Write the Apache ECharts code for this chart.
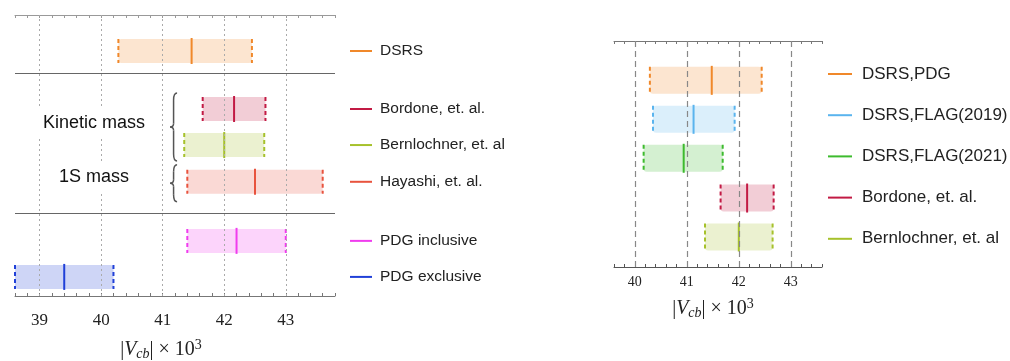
<!DOCTYPE html>
<html>
<head>
<meta charset="utf-8">
<script src="https://cdn.jsdelivr.net/npm/echarts@6/dist/echarts.min.js"></script>
<style>
html, body { margin: 0; padding: 0; background: #fff; }
#main { width: 1010px; height: 361px; }
</style>
</head>
<body>
<div id="main"></div>
<script>
// left panel, |Vcb| x 10^3 : lower edge, central value, upper edge
var leftNames = ['DSRS', 'Bordone, et. al.', 'Bernlochner, et. al', 'Hayashi, et. al.', 'PDG inclusive', 'PDG exclusive']
var leftLow = [40.28, 41.65, 41.35, 41.40, 41.40, 38.60]
var leftMid = [41.47, 42.16, 42.00, 42.50, 42.20, 39.40]
var leftHigh = [42.45, 42.67, 42.65, 43.60, 43.00, 40.20]
var leftTicks = [39, 40, 41, 42, 43]

// right panel
var rightNames = ['DSRS,PDG', 'DSRS,FLAG(2019)', 'DSRS,FLAG(2021)', 'Bordone, et. al.', 'Bernlochner, et. al']
var rightLow = [40.29, 40.35, 40.17, 41.65, 41.35]
var rightMid = [41.48, 41.13, 40.94, 42.16, 42.00]
var rightHigh = [42.44, 41.92, 41.69, 42.67, 42.65]
var rightTicks = [40, 41, 42, 43]

// layout: row heights in the panels (y axis units)
var leftRows = [6.8, 5.19, 4.19, 3.17, 1.53, 0.53]
var leftSeparators = [2.3, 6.19]
var rightRows = [4.79, 3.79, 2.79, 1.77, 0.77]

var leftColors = ['#F0882A', '#C21A44', '#A6C12B', '#E8533E', '#F03CEE', '#2040D8']
var rightColors = ['#F0882A', '#5AB4EE', '#3DBB2E', '#C21A44', '#A6C12B']

var SERIF = '"Liberation Serif", "DejaVu Serif", serif'
var SANS = '"Liberation Sans", Arial, sans-serif'

function buildData (lo, mid, hi, rows) {
  return lo.map(function (v, i) {
    return [v, mid[i], hi[i], rows[i]]
  })
}

function fade (hex, a) {
  var r = parseInt(hex.slice(1, 3), 16)
  var g = parseInt(hex.slice(3, 5), 16)
  var b = parseInt(hex.slice(5, 7), 16)
  return 'rgba(' + r + ',' + g + ',' + b + ',' + a + ')'
}

function makeRender (names, colors, opt) {
  return function (params, api) {
    var i = params.dataIndex
    var y = api.value(3)
    var lo = api.coord([api.value(0), y])
    var mid = api.coord([api.value(1), y])
    var hi = api.coord([api.value(2), y])
    var h = opt.barH
    var c = colors[i]
    var cs = params.coordSys
    var lx = cs.x + cs.width
    var ly = opt.legendY ? opt.legendY(cs, i) : lo[1]
    return {
      type: 'group',
      children: [
        { type: 'rect', shape: { x: lo[0], y: lo[1] - h / 2, width: hi[0] - lo[0], height: h, r: 3 },
          style: { fill: fade(c, opt.alpha) } },
        { type: 'line', shape: { x1: lo[0], y1: lo[1] - h / 2, x2: lo[0], y2: lo[1] + h / 2 },
          style: { stroke: c, lineWidth: 2, lineDash: [4, 3] } },
        { type: 'line', shape: { x1: hi[0], y1: hi[1] - h / 2, x2: hi[0], y2: hi[1] + h / 2 },
          style: { stroke: c, lineWidth: 2, lineDash: [4, 3] } },
        { type: 'line', shape: { x1: mid[0], y1: mid[1] - h / 2 - 1, x2: mid[0], y2: mid[1] + h / 2 + 1 },
          style: { stroke: c, lineWidth: 2 } },
        // legend entry next to the panel
        { type: 'line', shape: { x1: lx + opt.swatch[0], y1: ly, x2: lx + opt.swatch[1], y2: ly },
          style: { stroke: c, lineWidth: 2 } },
        { type: 'text', x: lx + opt.textX, y: ly,
          style: { text: names[i], fill: '#222', font: opt.font, verticalAlign: 'middle' } }
      ]
    }
  }
}

var nameRich = function (size) {
  return {
    n: { fontFamily: SERIF, fontSize: size, color: '#222' },
    v: { fontFamily: SERIF, fontSize: size, fontStyle: 'italic', color: '#222' },
    sub: { fontFamily: SERIF, fontSize: size * 0.7, fontStyle: 'italic', color: '#222', padding: [9, 0, 0, 0] },
    sup: { fontFamily: SERIF, fontSize: size * 0.7, color: '#222', padding: [0, 0, 9, 0] }
  }
}
var axisName = '{n||}{v|V}{sub|cb}{n|| × 10}{sup|3}'

function bottomAxis (grid, min, max, fontSize, margin, nameGap, namePad, lineColor) {
  return {
    type: 'value',
    gridIndex: grid,
    min: min,
    max: max,
    interval: 0.2,
    position: 'bottom',
    axisLine: { show: true, lineStyle: { color: lineColor, width: 1 } },
    axisTick: { show: true, inside: true, length: 3, lineStyle: { color: lineColor } },
    splitLine: { show: false },
    axisLabel: {
      interval: 0,
      margin: margin,
      fontFamily: SERIF,
      fontSize: fontSize,
      color: '#222',
      formatter: function (v) {
        return Math.abs(v - Math.round(v)) < 1e-6 ? String(Math.round(v)) : ''
      }
    },
    name: axisName,
    nameLocation: 'middle',
    nameGap: nameGap,
    nameTextStyle: { rich: nameRich(20), padding: namePad }
  }
}

function topAxis (grid, min, max, lineColor) {
  return {
    type: 'value',
    gridIndex: grid,
    min: min,
    max: max,
    interval: 0.2,
    position: 'top',
    axisLine: { show: true, lineStyle: { color: lineColor, width: 1 } },
    axisTick: { show: true, inside: true, length: 3, lineStyle: { color: lineColor } },
    axisLabel: { show: false },
    splitLine: { show: false }
  }
}

var chart = echarts.init(document.getElementById('main'))

chart.setOption({
  animation: false,
  backgroundColor: '#fff',
  grid: [
    { left: 15, right: 675, top: 15, bottom: 65, outerBoundsMode: 'none' },
    { left: 614, right: 188, top: 41, bottom: 94, outerBoundsMode: 'none' }
  ],
  xAxis: [
    bottomAxis(0, 38.6, 43.8, 17, 16, 42, [0, 28, 0, 0], '#777'),
    topAxis(0, 38.6, 43.8, '#999'),
    bottomAxis(1, 39.6, 43.6, 14, 8, 30, [0, 10, 0, 0], '#555'),
    topAxis(1, 39.6, 43.6, '#777')
  ],
  yAxis: [
    { type: 'value', gridIndex: 0, min: 0, max: 7.8, show: false },
    { type: 'value', gridIndex: 1, min: 0, max: 5.8, show: false }
  ],
  series: [
    {
      type: 'line',
      xAxisIndex: 0,
      yAxisIndex: 0,
      data: [],
      silent: true,
      markLine: {
        silent: true,
        symbol: ['none', 'none'],
        label: { show: false },
        data: leftTicks.map(function (t) {
          return { xAxis: t, lineStyle: { color: '#aaa', width: 1, type: [2, 3] } }
        }).concat(leftSeparators.map(function (s) {
          return { yAxis: s, lineStyle: { color: '#666', width: 1, type: 'solid' } }
        }))
      }
    },
    {
      type: 'line',
      xAxisIndex: 2,
      yAxisIndex: 1,
      data: [],
      silent: true,
      markLine: {
        silent: true,
        symbol: ['none', 'none'],
        label: { show: false },
        data: rightTicks.map(function (t) {
          return { xAxis: t, lineStyle: { color: '#888', width: 1.2, type: [6, 4] } }
        })
      }
    },
    {
      type: 'custom',
      xAxisIndex: 0,
      yAxisIndex: 0,
      clip: false,
      encode: { x: [0, 1, 2], y: 3 },
      data: buildData(leftLow, leftMid, leftHigh, leftRows),
      renderItem: makeRender(leftNames, leftColors, {
        barH: 24, alpha: 0.22, swatch: [15, 37], textX: 45, font: '15.5px ' + SANS
      })
    },
    {
      type: 'custom',
      xAxisIndex: 2,
      yAxisIndex: 1,
      clip: false,
      encode: { x: [0, 1, 2], y: 3 },
      data: buildData(rightLow, rightMid, rightHigh, rightRows),
      renderItem: makeRender(rightNames, rightColors, {
        barH: 27, alpha: 0.22, swatch: [6, 30], textX: 40, font: '17px ' + SANS,
        legendY: function (cs, i) { return cs.y + 33 + i * 41.2 }
      })
    }
  ]
})

// curly brace "{" made of quadratic curves and straight pieces
function brace (x, y0, y1, w) {
  var m = (y0 + y1) / 2
  var xm = x + w / 2
  var st = { fill: null, stroke: '#555', lineWidth: 1.5 }
  return [
    { type: 'bezierCurve', z: 100, shape: { x1: x + w, y1: y0, cpx1: xm, cpy1: y0, x2: xm, y2: y0 + w }, style: st },
    { type: 'line', z: 100, shape: { x1: xm, y1: y0 + w, x2: xm, y2: m - w / 2 }, style: st },
    { type: 'bezierCurve', z: 100, shape: { x1: xm, y1: m - w / 2, cpx1: xm, cpy1: m, x2: x, y2: m }, style: st },
    { type: 'bezierCurve', z: 100, shape: { x1: x, y1: m, cpx1: xm, cpy1: m, x2: xm, y2: m + w / 2 }, style: st },
    { type: 'line', z: 100, shape: { x1: xm, y1: m + w / 2, x2: xm, y2: y1 - w }, style: st },
    { type: 'bezierCurve', z: 100, shape: { x1: xm, y1: y1 - w, cpx1: xm, cpy1: y1, x2: x + w, y2: y1 }, style: st }
  ]
}

var kinTop = chart.convertToPixel({ gridIndex: 0 }, [41.12, leftRows[1]])
var kinBot = chart.convertToPixel({ gridIndex: 0 }, [41.12, leftRows[2]])
var oneS = chart.convertToPixel({ gridIndex: 0 }, [41.12, leftRows[3]])

chart.setOption({
  graphic: brace(kinTop[0], kinTop[1] - 16, kinBot[1] + 16, 7)
    .concat(brace(oneS[0], oneS[1] - 17, oneS[1] + 20, 7))
    .concat([
      { type: 'text', z: 100, x: 94, y: 123,
        style: { text: 'Kinetic mass', font: '18px ' + SANS, fill: '#111', align: 'center', verticalAlign: 'middle',
          backgroundColor: '#fff', padding: [7, 9] } },
      { type: 'text', z: 100, x: 94, y: 177,
        style: { text: '1S mass', font: '18px ' + SANS, fill: '#111', align: 'center', verticalAlign: 'middle',
          backgroundColor: '#fff', padding: [6, 6] } }
    ])
})
</script>
</body>
</html>
